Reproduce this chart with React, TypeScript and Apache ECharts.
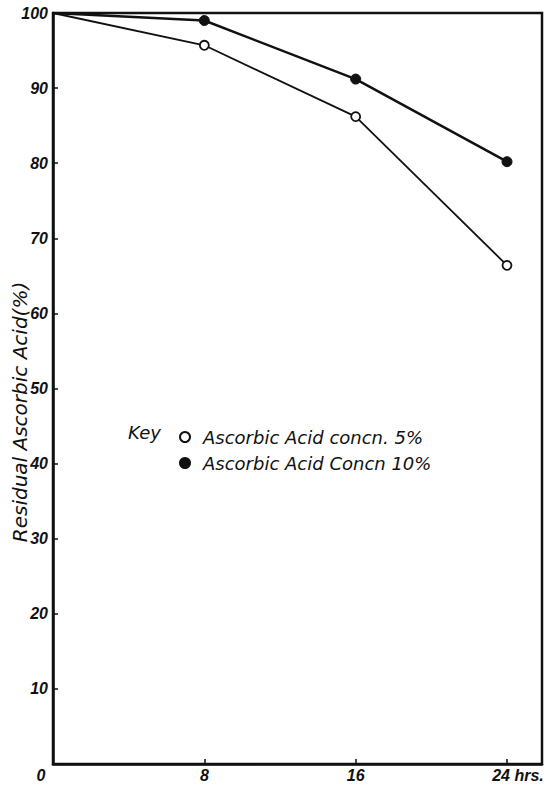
import React, { useEffect, useRef } from "react";
import * as echarts from "echarts";

const hours = [0, 8, 16, 24];
const conc5 = [100, 95.7, 86.2, 66.4];
const conc10 = [100, 99.0, 91.2, 80.2];
const xTickValues = [8, 16, 24];
const xLabelValues = [0, 8, 16, 24];
const seriesNames = ["Ascorbic Acid concn. 5%", "Ascorbic Acid Concn 10%"];
const yTitle = "Residual Ascorbic Acid(%)";
const keyLabel = "Key";

export default function App() {
  const ref = useRef<HTMLDivElement>(null);
  useEffect(() => {
    document.body.style.margin = "0";
    const chart = echarts.init(ref.current!, null, { renderer: "svg" });
    const mk = (vals: number[]) =>
      hours.map((h, i) =>
        i === 0 ? { value: [h, vals[i]], symbol: "none" } : { value: [h, vals[i]] }
      );
    const tickFont = {
      fontFamily: "Liberation Sans",
      fontStyle: "italic" as const,
      fontWeight: "bold" as const,
      fontSize: 16,
      color: "#111",
    };
    chart.setOption({
      animation: false,
      backgroundColor: "#fff",
      grid: {
        left: 53,
        top: 13,
        right: 5,
        bottom: 21,
        show: true,
        borderColor: "#111",
        borderWidth: 2.5,
        outerBoundsMode: "none",
      },
      xAxis: {
        type: "value",
        min: 0,
        max: 25.85,
        interval: 8,
        axisLine: { lineStyle: { color: "#111", width: 2.5 } },
        axisTick: {
          inside: true,
          length: 5,
          lineStyle: { color: "#111", width: 1.5 },
          customValues: xTickValues,
        },
        axisLabel: {
          customValues: xLabelValues,
          margin: 3,
          ...tickFont,
          formatter: (v: number) =>
            v === 0 ? "{z|0}" : v === 24 ? "{h|24 hrs.}" : String(v),
          rich: {
            z: { ...tickFont, padding: [0, 24, 0, 0] },
            h: { ...tickFont, padding: [0, 0, 0, 22] },
          },
        },
        splitLine: { show: false },
      },
      yAxis: {
        type: "value",
        min: 0,
        max: 100,
        interval: 10,
        axisLine: { show: true, lineStyle: { color: "#111", width: 2.5 } },
        axisTick: { inside: true, length: 5, lineStyle: { color: "#111", width: 1.5 } },
        axisLabel: {
          margin: 5,
          ...tickFont,
          formatter: (v: number) => (v === 0 ? "" : String(v)),
        },
        splitLine: { show: false },
      },
      legend: {
        orient: "vertical",
        left: 174,
        top: 423,
        icon: "circle",
        itemWidth: 10,
        itemHeight: 10,
        itemGap: 8,
        data: seriesNames,
        textStyle: {
          fontFamily: "DejaVu Sans",
          fontStyle: "italic",
          fontSize: 18,
          color: "#111",
          padding: [0, 0, 0, 8],
          lineHeight: 18,
        },
      },
      graphic: [
        {
          type: "text",
          left: 128,
          top: 423,
          style: {
            text: keyLabel,
            font: "italic 18px 'DejaVu Sans'",
            fill: "#111",
          },
        },
        {
          type: "text",
          x: 20,
          y: 412,
          rotation: Math.PI / 2,
          style: {
            text: yTitle,
            font: "italic 20px 'DejaVu Sans'",
            fill: "#111",
            align: "center",
            verticalAlign: "middle",
          },
        },
      ],
      series: [
        {
          name: seriesNames[0],
          type: "line",
          data: mk(conc5),
          symbol: "circle",
          symbolSize: 9,
          lineStyle: { color: "#111", width: 1.8 },
          itemStyle: { color: "#fff", borderColor: "#111", borderWidth: 1.8 },
          z: 3,
        },
        {
          name: seriesNames[1],
          type: "line",
          data: mk(conc10),
          symbol: "circle",
          symbolSize: 10,
          lineStyle: { color: "#111", width: 2.5 },
          itemStyle: { color: "#111", borderColor: "#111", borderWidth: 1 },
          z: 3,
        },
      ],
    });
    return () => chart.dispose();
  }, []);
  return <div ref={ref} style={{ width: 547, height: 785 }} />;
}
